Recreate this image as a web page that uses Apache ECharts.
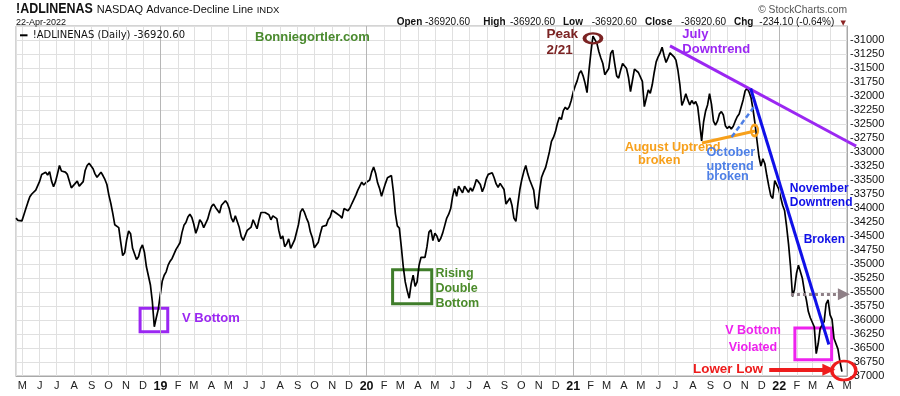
<!DOCTYPE html>
<html>
<head>
<meta charset="utf-8">
<script src="https://cdn.jsdelivr.net/npm/echarts@6/dist/echarts.min.js"></script>
<style>
html,body{margin:0;padding:0;background:#fff;}
#chart{width:900px;height:396px;}
</style>
</head>
<body>
<div id="chart"></div>
<script>
// ---- data ----
// NASDAQ Advance-Decline Line sampled twice a week (every 3.5 days) starting 20-Apr-2018, last value 22-Apr-2022
const firstSampleDate = [2018, 3, 20];
const samplesPerWeek = 2;
const adLine = [
  -34180,-34220,-34230,-34230,-34120,-34010,-33900,-33800,-33750,-33730,
  -33680,-33700,-33520,-33400,-33370,-33360,-33410,-33350,-33520,-33620,
  -33530,-33390,-33240,-33340,-33360,-33360,-33400,-33420,-33640,-33660,
  -33560,-33520,-33610,-33630,-33530,-33330,-33240,-33200,-33180,-33300,
  -33390,-33450,-33450,-33360,-33420,-33490,-33580,-33770,-33920,-34100,
  -34300,-34290,-34350,-34610,-34850,-34800,-34570,-34410,-34460,-34720,
  -34750,-34920,-34870,-34730,-34660,-34790,-35050,-35020,-35370,-35670,
  -36120,-35960,-35810,-35550,-35310,-35200,-35140,-35020,-34950,-34900,
  -34870,-34740,-34680,-34620,-34440,-34310,-34260,-34160,-34110,-34170,
  -34290,-34450,-34350,-34210,-34260,-34350,-34360,-34200,-34070,-33970,
  -33930,-33990,-34040,-34090,-33950,-33910,-33870,-33920,-34020,-34180,
  -34250,-34140,-34170,-34350,-34510,-34580,-34600,-34400,-34390,-34340,
  -34210,-34220,-34370,-34210,-34080,-34050,-34080,-34100,-34120,-34210,
  -34140,-34110,-34190,-34400,-34550,-34500,-34690,-34640,-34550,-34720,
  -34690,-34570,-34540,-34290,-34070,-34010,-34080,-34180,-34260,-34430,
  -34530,-34710,-34730,-34610,-34460,-34330,-34310,-34310,-34210,-34160,
  -34040,-34070,-34090,-34110,-34140,-34180,-34010,-33980,-34050,-34000,
  -33920,-33890,-33770,-33680,-33610,-33540,-33590,-33550,-33530,-33500,
  -33360,-33270,-33380,-33550,-33650,-33790,-33670,-33560,-33460,-33440,
  -33420,-33710,-34100,-34320,-34360,-34690,-35050,-35320,-35480,-35610,
  -35350,-35200,-35400,-35320,-35020,-34880,-34850,-34880,-34690,-34430,
  -34390,-34580,-34450,-34500,-34600,-34540,-34440,-34310,-34180,-34110,
  -34010,-33790,-33650,-33790,-33610,-33630,-33730,-33610,-33620,-33720,
  -33640,-33700,-33610,-33490,-33530,-33580,-33710,-33620,-33480,-33400,
  -33370,-33370,-33460,-33570,-33630,-33560,-33570,-33670,-33930,-33950,
  -33820,-33950,-34180,-34240,-33930,-33670,-33490,-33350,-33240,-33390,
  -33500,-33590,-33680,-33980,-34020,-33690,-33450,-33360,-33280,-33140,
  -32990,-32810,-32740,-32640,-32490,-32380,-32420,-32260,-32200,-32240,
  -32190,-32080,-31930,-31820,-31730,-31600,-31550,-31640,-31770,-31940,
  -31540,-31210,-30930,-30900,-31060,-31210,-31320,-31420,-31620,-31650,
  -31510,-31240,-31180,-31420,-31640,-31680,-31540,-31420,-31390,-31510,
  -31670,-31920,-31950,-31520,-31520,-31580,-31570,-31740,-32190,-32040,
  -31890,-31950,-31800,-31580,-31390,-31300,-31230,-31130,-31280,-31400,
  -31320,-31230,-31230,-31300,-31360,-31540,-31800,-32170,-32080,-31960,
  -32070,-32160,-32080,-32140,-32100,-32190,-32490,-32800,-32460,-32270,
  -32160,-31960,-32150,-32450,-32520,-32450,-32320,-32280,-32340,-32530,
  -32580,-32540,-32590,-32540,-32450,-32370,-32320,-32320,-32070,-31910,
  -31860,-31930,-32030,-32240,-32490,-32790,-33080,-33250,-33120,-33210,
  -33420,-33610,-33780,-33830,-33510,-33530,-33660,-33810,-33950,-34050,
  -34330,-34650,-35050,-35580,-35450,-35170,-35020,-35020,-35260,-35480,
  -35640,-35850,-35960,-35940,-36120,-36600,-36420,-36150,-36150,-36030,
  -35710,-35640,-35910,-35990,-36330,-36350,-36520,-36740,-36920.6
];
const monthInitials = ['J','F','M','A','M','J','J','A','S','O','N','D'];
const yearStarts = [[2019,0,1],[2020,0,1],[2021,0,1],[2022,0,1]];
const axisEnd = [2022, 4, 1];
const yMin = -37000, yMax = -30750, yStep = 250;

// ---- helpers ----
const DAY = 86400000;
const t0 = new Date(firstSampleDate[0], firstSampleDate[1], firstSampleDate[2]).getTime();
const tEnd = new Date(axisEnd[0], axisEnd[1], axisEnd[2]).getTime();
function weekDate(k) { return t0 + k * 7 * DAY; }
function A(k, v) { return [weekDate(k), v]; }

const seriesData = adLine.map((v, i) => [weekDate(i / samplesPerWeek), v]);

const PURPLE = '#9b27f2', GREEN = '#3f7d2a', GREEN_T = '#4b8b2b', MAROON = '#7b2323',
      ORANGE = '#f7a01b', LBLUE = '#4d7fe6', BLUE = '#1010e8', MAGENTA = '#ee22ee', RED = '#ee1c1c', GREYM = '#8e7f86';

function txt(k, v, text, color, size, lh, pos) {
  return {
    coord: A(k, v), symbol: 'rect', symbolSize: 1,
    itemStyle: { color: 'rgba(0,0,0,0)' },
    label: { show: true, formatter: text, position: pos || 'right', distance: 0,
      color: color, fontSize: size, fontWeight: 'bold', fontFamily: 'Liberation Sans', lineHeight: lh || size + 2 }
  };
}
function ring(k, v, w, h, color, bw) {
  return { coord: A(k, v), symbol: 'circle', symbolSize: [w, h],
    itemStyle: { color: 'rgba(0,0,0,0)', borderColor: color, borderWidth: bw }, label: { show: false } };
}
function box(k1, v1, k2, v2, color) {
  return [{ coord: A(k1, v1), itemStyle: { color: 'rgba(0,0,0,0)', borderColor: color, borderWidth: 3 } }, { coord: A(k2, v2) }];
}
function seg(k1, v1, k2, v2, style, endSym, endSize) {
  const b = { coord: A(k2, v2) };
  if (endSym) { b.symbol = endSym; b.symbolSize = endSize; }
  return [{ coord: A(k1, v1), lineStyle: style, symbol: 'none' }, b];
}

const chart = echarts.init(document.getElementById('chart'), null, { renderer: 'canvas' });

const hdrY = 22.7;
function hText(x, y, text, font, fill, align, extra) {
  return Object.assign({ type: 'text', x: x, y: y, silent: true, z: 100,
    style: { text: text, font: font, fill: fill, textAlign: align || 'left', textVerticalAlign: 'middle' } }, extra || {});
}

const kEnd = (tEnd - t0) / (7 * DAY) - 0.01;
// July downtrend line: drawn from (165.5, -31104) and continued past the plot edge to (212.6, -32896)
const julyStart = [165.5, -31104], julyEnd = [212.6, -32896];
function julyAt(k) { return julyStart[1] + (julyEnd[1] - julyStart[1]) * (k - julyStart[0]) / (julyEnd[0] - julyStart[0]); }

chart.setOption({
  animation: false,
  textStyle: { fontFamily: 'Liberation Sans' },
  grid: { left: 16, right: 53, top: 26, height: 350, show: true, borderColor: '#a8a8a8', borderWidth: 1 },
  xAxis: {
    type: 'time',
    min: t0,
    max: tEnd,
    minInterval: 28 * DAY,
    maxInterval: 31 * DAY,
    axisLine: { show: true, lineStyle: { color: '#a8a8a8' } },
    axisTick: { show: false },
    splitLine: { show: true, lineStyle: { color: '#e0e0e0' } },
    axisLabel: {
      color: '#222', fontSize: 11, margin: 4, showMinLabel: false, showMaxLabel: false,
      formatter: function (value) {
        const d = new Date(value);
        const m = d.getMonth();
        return m === 0 ? '{yr|' + String(d.getFullYear()).slice(2) + '}' : monthInitials[m];
      },
      rich: { yr: { fontWeight: 'bold', fontSize: 12.5, color: '#111' } }
    }
  },
  yAxis: {
    type: 'value', position: 'right', min: yMin, max: yMax, interval: yStep,
    axisLine: { show: true, lineStyle: { color: '#a8a8a8' } },
    axisTick: { show: false },
    splitLine: { show: true, lineStyle: { color: '#e0e0e0' } },
    axisLabel: { color: '#111', fontSize: 11, margin: 3,
      formatter: function (v) { return v > -31000 ? '' : String(v); } }
  },
  series: [
    {
      type: 'line', data: [], z: 1, silent: true,
      markLine: { silent: true, symbol: ['none', 'none'], label: { show: false },
        lineStyle: { color: '#b6b6b6', width: 1, type: 'solid' },
        data: yearStarts.map(y => ({ xAxis: new Date(y[0], y[1], y[2]).getTime() })) }
    },
    {
      type: 'line', data: seriesData, z: 3, symbol: 'none', silent: true,
      lineStyle: { color: '#000', width: 1.7 }
    },
    {
      type: 'line', data: [], z: 5, clip: false, silent: true,
      markArea: { silent: true, label: { show: false },
        data: [
          box(31.4, -35789, 38.4, -36211, PURPLE),
          box(95.3, -35104, 105.2, -35711, GREEN),
          box(197.1, -36143, 206.4, -36711, MAGENTA)
        ] },
      markLine: { silent: true, symbol: ['none', 'none'], label: { show: false },
        data: [
          seg(julyStart[0], julyStart[1], kEnd, julyAt(kEnd), { color: PURPLE, width: 3, type: 'solid' }),
          seg(185.9, -31866, 205.7, -36437, { color: BLUE, width: 3, type: 'solid' }),
          seg(173.6, -32839, 187.0, -32625, { color: ORANGE, width: 3, type: 'solid' }),
          seg(181.1, -32732, 187.0, -32170, { color: LBLUE, width: 2.5, type: [5, 3] }),
          seg(196.1, -35539, 209.5, -35539, { color: GREYM, width: 3, type: 'dotted' }, 'triangle', [12, 12]),
          seg(190.6, -36889, 205.7, -36889, { color: RED, width: 4, type: 'solid' }, 'triangle', [12, 13])
        ] },
      markPoint: { silent: true,
        data: [
          txt(41.9, -35968, 'V Bottom', PURPLE, 13),
          txt(106.0, -35437, 'Rising\nDouble\nBottom', GREEN_T, 12.5, 15),
          txt(134.1, -31045, 'Peak\n2/21', MAROON, 13.5, 15.5),
          ring(146.0, -30970, 17, 10, MAROON, 3),
          txt(168.5, -31039, 'July\nDowntrend', PURPLE, 13, 14.7),
          txt(153.9, -32920, 'August Uptrend', ORANGE, 12.7),
          txt(157.3, -33157, 'broken', ORANGE, 12.7),
          ring(186.9, -32616, 7, 11, ORANGE, 2.5),
          txt(174.6, -33000, 'October', LBLUE, 12.7),
          txt(174.6, -33259, 'uptrend', LBLUE, 12.7),
          txt(174.6, -33429, 'broken', LBLUE, 12.7),
          txt(195.7, -33664, 'November', BLUE, 12),
          txt(195.7, -33914, 'Downtrend', BLUE, 12),
          txt(199.2, -34568, 'Broken', BLUE, 12),
          txt(186.5, -36343, 'V Bottom\nViolated', MAGENTA, 12.5, 16.7, 'inside'),
          txt(171.2, -36879, 'Lower Low', RED, 13.4),
          ring(209.5, -36902, 24, 19, RED, 3)
        ] }
    }
  ],
  graphic: [
    hText(0, 0, '!ADLINENAS', 'bold 15px "Liberation Sans"', '#111', 'left', { x: 16, y: 9, scaleX: 0.83 }),
    hText(96.7, 10, 'NASDAQ Advance-Decline Line', '11px "Liberation Sans"', '#111'),
    hText(256.7, 10.5, 'INDX', '9.5px "Liberation Sans"', '#111'),
    hText(847, 9.7, '\u00a9 StockCharts.com', '10.3px "Liberation Sans"', '#555', 'right'),
    hText(16, hdrY, '22-Apr-2022', '9px "Liberation Sans"', '#111'),
    hText(396.7, hdrY, 'Open', 'bold 10px "Liberation Sans"', '#111'),
    hText(425, hdrY, '-36920.60', '10px "Liberation Sans"', '#111'),
    hText(483.3, hdrY, 'High', 'bold 10px "Liberation Sans"', '#111'),
    hText(510, hdrY, '-36920.60', '10px "Liberation Sans"', '#111'),
    hText(563, hdrY, 'Low', 'bold 10px "Liberation Sans"', '#111'),
    hText(591.7, hdrY, '-36920.60', '10px "Liberation Sans"', '#111'),
    hText(645, hdrY, 'Close', 'bold 10px "Liberation Sans"', '#111'),
    hText(681, hdrY, '-36920.60', '10px "Liberation Sans"', '#111'),
    hText(734, hdrY, 'Chg', 'bold 10px "Liberation Sans"', '#111'),
    hText(759.3, hdrY, '-234.10 (-0.64%)', '10px "Liberation Sans"', '#111'),
    hText(840.5, hdrY, '\u25BC', '7px "DejaVu Sans"', '#8b2323'),
    { type: 'rect', silent: true, z: 100, shape: { x: 20, y: 34.3, width: 7.5, height: 2 }, style: { fill: '#000' } },
    hText(32.7, 35.5, '!ADLINENAS (Daily) -36920.60', '10px "DejaVu Sans"', '#111'),
    hText(255, 37.3, 'Bonniegortler.com', 'bold 13px "Liberation Sans"', '#4a8a2e')
  ]
});

// continue the July downtrend line past the right edge of the plot, as in the original markup
const pA = chart.convertToPixel({ gridIndex: 0 }, A(kEnd, julyAt(kEnd)));
const pB = chart.convertToPixel({ gridIndex: 0 }, A(julyEnd[0], julyEnd[1]));
chart.setOption({ graphic: [{ type: 'line', id: 'julyExt', silent: true, z: 100,
  shape: { x1: pA[0], y1: pA[1], x2: pB[0], y2: pB[1] }, style: { stroke: PURPLE, lineWidth: 3 } }] });
</script>
</body>
</html>
